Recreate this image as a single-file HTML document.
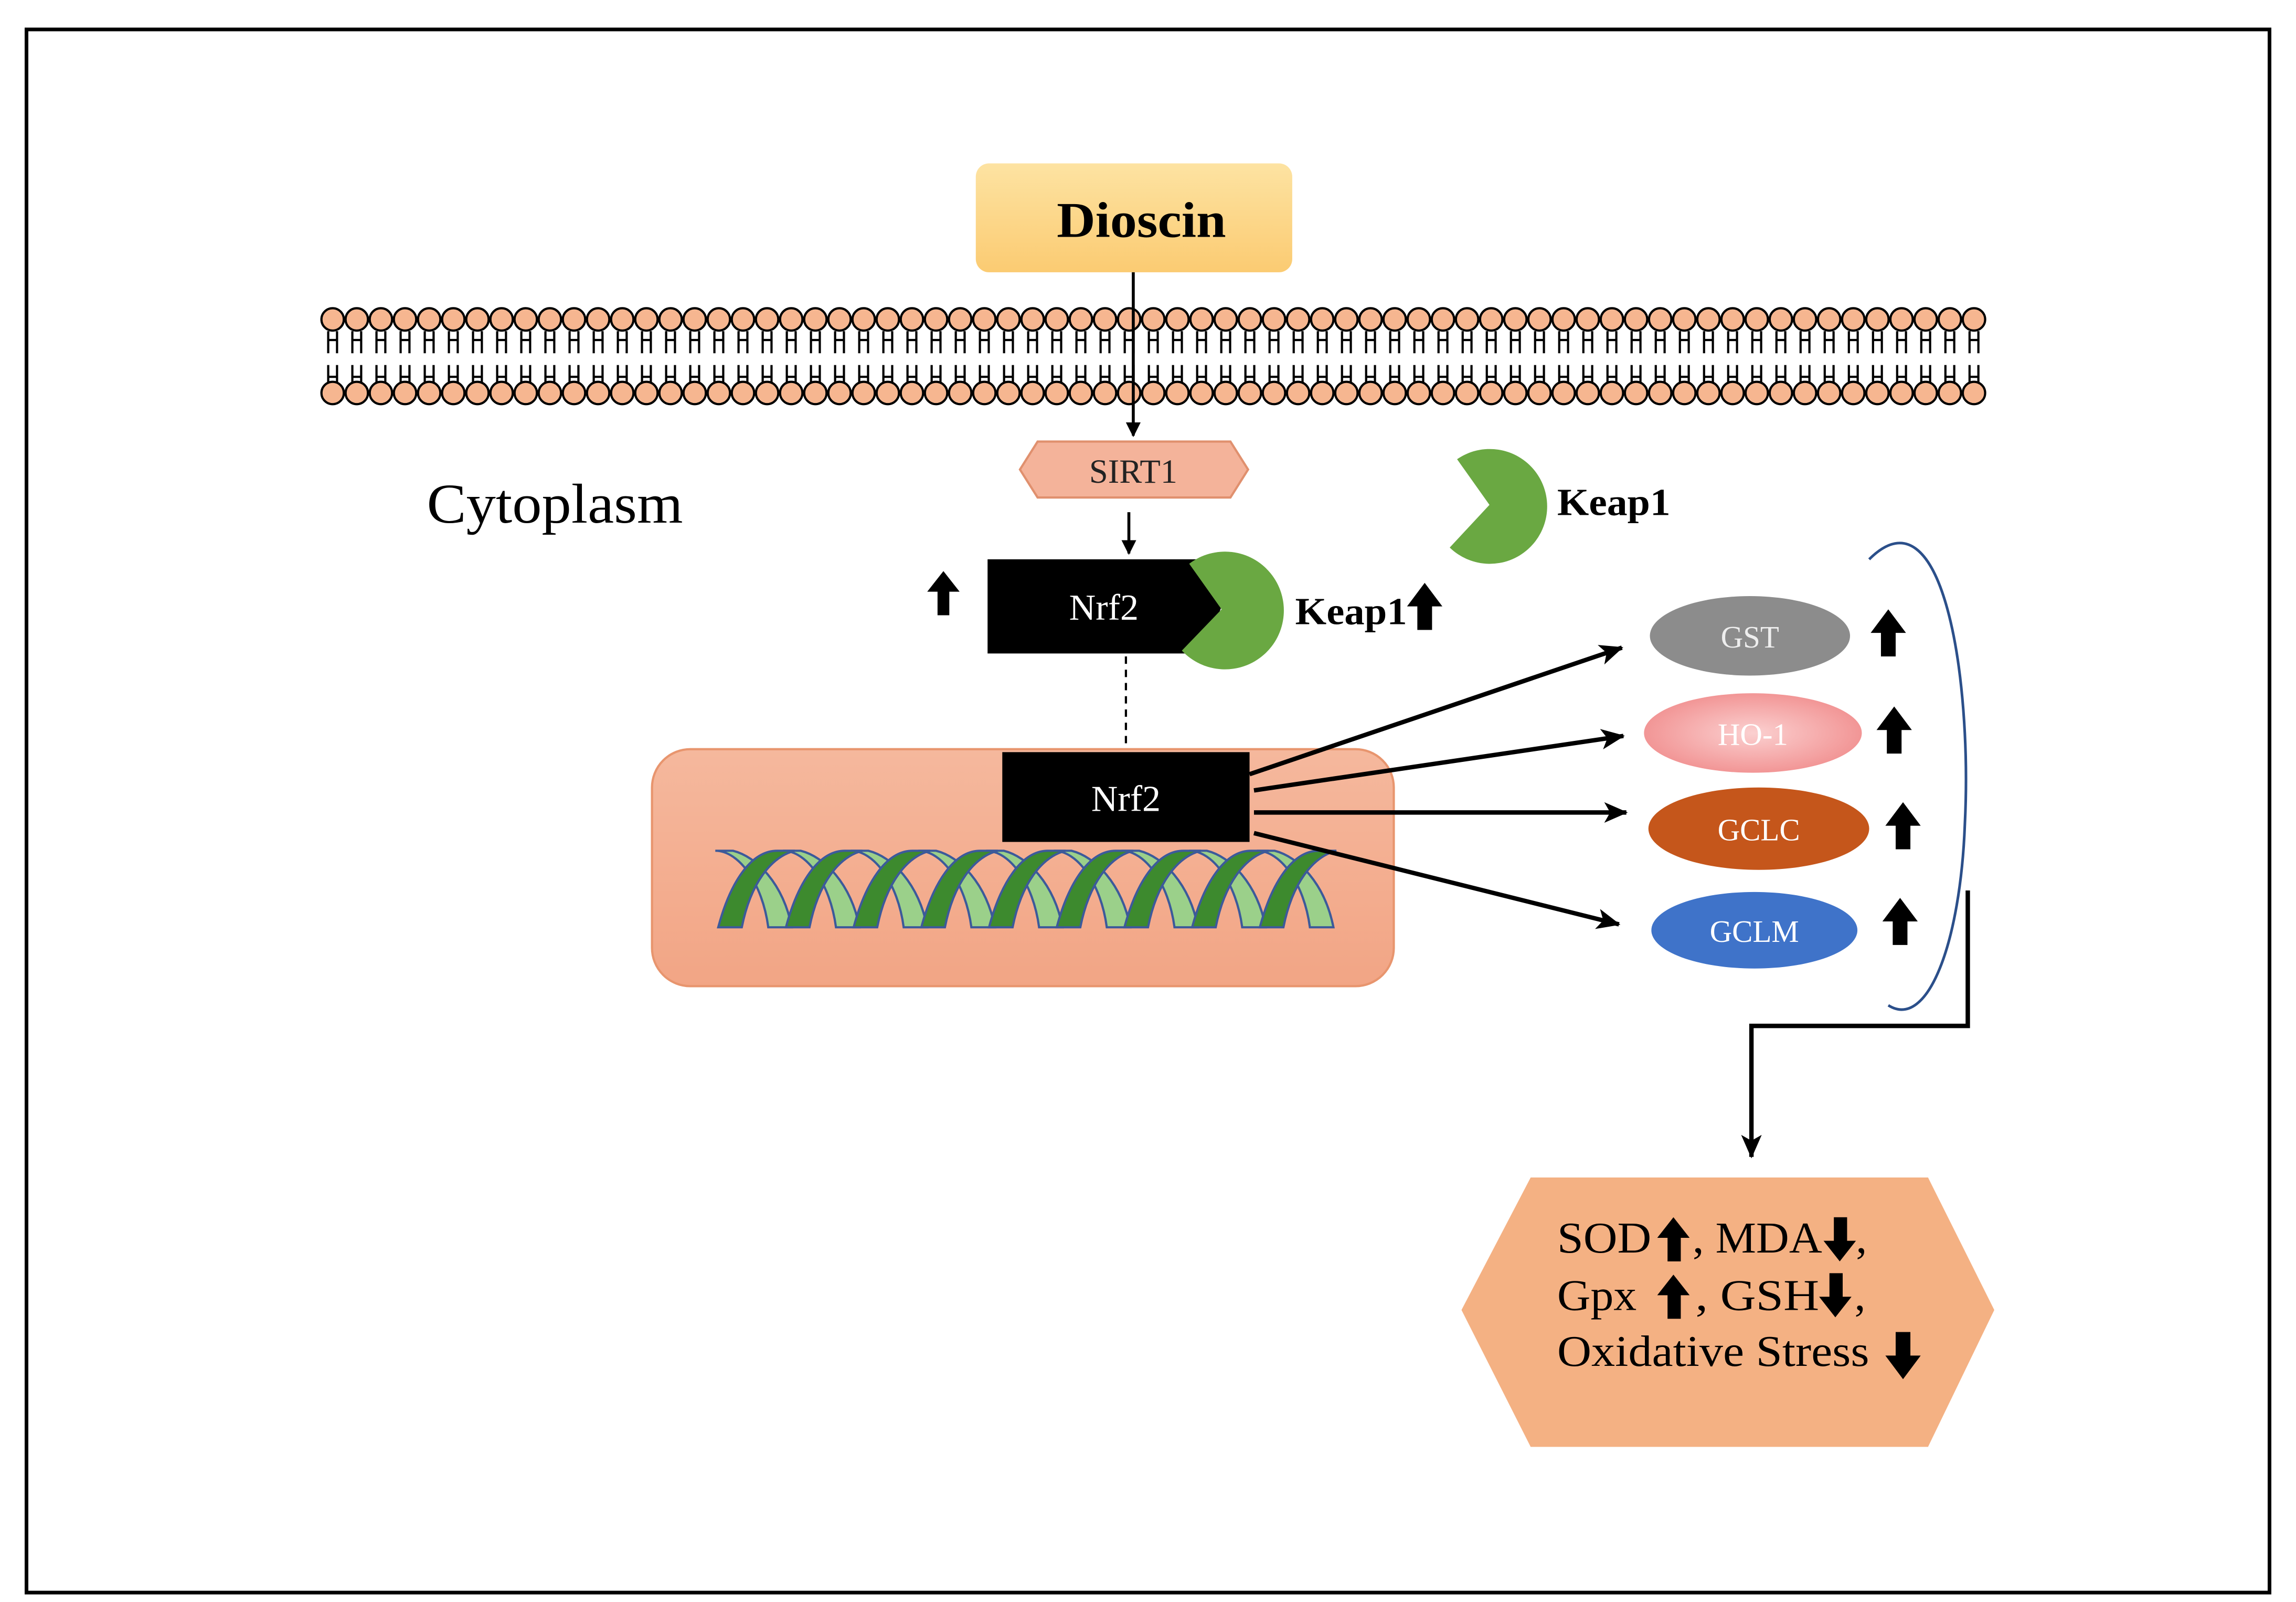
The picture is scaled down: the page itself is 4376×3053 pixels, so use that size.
<!DOCTYPE html>
<html><head><meta charset="utf-8"><style>
html,body{margin:0;padding:0;background:#fff}
svg{display:block}
text{font-family:"Liberation Serif",serif}
</style></head><body>
<svg width="4376" height="3053" viewBox="0 0 1560 1088.4" preserveAspectRatio="none" xmlns="http://www.w3.org/2000/svg">
<defs>
<linearGradient id="dg" x1="0" y1="0" x2="0" y2="1"><stop offset="0" stop-color="#fde3a2"/><stop offset="1" stop-color="#fbcb72"/></linearGradient>
<linearGradient id="ng" x1="0" y1="0" x2="0" y2="1"><stop offset="0" stop-color="#f5b89d"/><stop offset="1" stop-color="#f2a585"/></linearGradient>
<radialGradient id="hg" cx="0.5" cy="0.5" r="0.6"><stop offset="0" stop-color="#fbd0d0"/><stop offset="1" stop-color="#f08a8a"/></radialGradient>
<marker id="ah" markerWidth="10" markerHeight="10" refX="9" refY="5" orient="auto" markerUnits="userSpaceOnUse"><path d="M0,0 L10,5 L0,10 Z" fill="#000"/></marker>
<marker id="ah2" markerWidth="16" markerHeight="14" refX="15" refY="7" orient="auto" markerUnits="userSpaceOnUse"><path d="M0,0 L16,7 L0,14 L4,7 Z" fill="#000"/></marker>
</defs>
<rect x="18" y="20" width="1524" height="1062" fill="#fff" stroke="#000" stroke-width="2.5"/>

<rect x="663" y="111" width="215" height="74" rx="9" fill="url(#dg)"/>
<text x="718" y="161" font-size="34" font-weight="bold" textLength="115" lengthAdjust="spacingAndGlyphs">Dioscin</text>

<g id="mem" stroke="#000" stroke-width="1.5"></g>
<script>
(function(){
var ns="http://www.w3.org/2000/svg",g=document.getElementById("mem");
function ln(a,b,c,d){var l=document.createElementNS(ns,"line");l.setAttribute("x1",a);l.setAttribute("y1",b);l.setAttribute("x2",c);l.setAttribute("y2",d);g.appendChild(l);}
for(var i=0;i<70;i++){var x=226+i*16.4;if(x>1350)break;
 ln(x-3,225,x-3,240);ln(x+3,225,x+3,240);ln(x-3,231,x+3,231);
 ln(x-3,248,x-3,262);ln(x+3,248,x+3,262);ln(x-3,256,x+3,256);
 [217,267].forEach(function(cy){var c=document.createElementNS(ns,"circle");c.setAttribute("cx",x);c.setAttribute("cy",cy);c.setAttribute("r",7.6);c.setAttribute("fill","#f6b690");g.appendChild(c);});
}})();
</script>

<line x1="770" y1="185" x2="770" y2="296" stroke="#000" stroke-width="2" marker-end="url(#ah)"/>

<polygon points="705,300 836,300 848,319 836,338 705,338 693,319" fill="#f4b39a" stroke="#e0906e" stroke-width="1.5"/>
<text x="770" y="328" font-size="23" text-anchor="middle" fill="#222">SIRT1</text>
<line x1="767" y1="348" x2="767" y2="376" stroke="#000" stroke-width="2" marker-end="url(#ah)"/>

<text x="290" y="355" font-size="38" textLength="174" lengthAdjust="spacingAndGlyphs">Cytoplasm</text>

<path d="M671,380 L818,380 L830,412 L818,444 L671,444 Z" fill="#000"/>
<path d="M830,414 L808,383 A40,40 0 1 1 803,442 Z" fill="#6aa842"/>
<text x="750" y="421" font-size="25" fill="#fff" text-anchor="middle">Nrf2</text>
<path d="M641,388 L652,402 L645,402 L645,418 L637,418 L637,402 L630,402 Z" fill="#000"/>
<text x="880" y="424" font-size="26" font-weight="bold" textLength="76" lengthAdjust="spacingAndGlyphs">Keap1</text>
<path d="M968,396 L980,412 L973,412 L973,428 L963,428 L963,412 L956,412 Z" fill="#000"/>

<path d="M1012,343 L990,312 A39,39 0 1 1 985,372 Z" fill="#6aa842"/>
<text x="1058" y="350" font-size="26" font-weight="bold" textLength="77" lengthAdjust="spacingAndGlyphs">Keap1</text>

<line x1="765" y1="446" x2="765" y2="512" stroke="#000" stroke-width="1.5" stroke-dasharray="5,4"/>

<rect x="443" y="509" width="504" height="161" rx="26" fill="url(#ng)" stroke="#e8956e" stroke-width="1.5"/>
<rect x="681" y="511" width="168" height="61" fill="#000"/>
<text x="765" y="551" font-size="25" fill="#fff" text-anchor="middle">Nrf2</text>

<g stroke="#3c5a9a" stroke-width="1.5" id="dna"></g>
<script>
(function(){
var ns="http://www.w3.org/2000/svg",g=document.getElementById("dna");
function p(d,f){var e=document.createElementNS(ns,"path");e.setAttribute("d",d);e.setAttribute("fill",f);g.appendChild(e);}
for(var i=0;i<9;i++){var x=530+i*46;
 p("M"+(x-8)+",630 C"+(x-12)+",600 "+(x-28)+",578 "+(x-44)+",578 L"+(x-32)+",578 C"+(x-16)+",582 "+(x+2)+",600 "+(x+8)+",630 Z","#9bd08a");}
for(var i=0;i<9;i++){var x=488+i*46;
 p("M"+x+",630 C"+(x+8)+",600 "+(x+22)+",578 "+(x+40)+",578 L"+(x+52)+",578 C"+(x+36)+",582 "+(x+22)+",600 "+(x+16)+",630 Z","#3d8a2e");}
})();
</script>

<g stroke="#000" stroke-width="3" fill="none">
<line x1="849" y1="526" x2="1102" y2="440" marker-end="url(#ah2)"/>
<line x1="852" y1="537" x2="1103" y2="500" marker-end="url(#ah2)"/>
<line x1="852" y1="552" x2="1105" y2="552" marker-end="url(#ah2)"/>
<line x1="852" y1="566" x2="1100" y2="628" marker-end="url(#ah2)"/>
</g>

<ellipse cx="1189" cy="432" rx="68" ry="27" fill="#8c8c8c"/>
<text x="1189" y="440" font-size="21" fill="#eee" text-anchor="middle">GST</text>
<ellipse cx="1191" cy="498" rx="74" ry="27" fill="url(#hg)"/>
<text x="1191" y="506" font-size="21" fill="#fff" text-anchor="middle">HO-1</text>
<ellipse cx="1195" cy="563" rx="75" ry="28" fill="#c5561b"/>
<text x="1195" y="571" font-size="21" fill="#fff" text-anchor="middle">GCLC</text>
<ellipse cx="1192" cy="632" rx="70" ry="26" fill="#3f73c9"/>
<text x="1192" y="640" font-size="21" fill="#fff" text-anchor="middle">GCLM</text>

<g fill="#000">
<path d="M1283,414 L1295,430 L1288,430 L1288,446 L1278,446 L1278,430 L1271,430 Z"/>
<path d="M1287,480 L1299,496 L1292,496 L1292,512 L1282,512 L1282,496 L1275,496 Z"/>
<path d="M1293,545 L1305,561 L1298,561 L1298,577 L1288,577 L1288,561 L1281,561 Z"/>
<path d="M1291,610 L1303,626 L1296,626 L1296,642 L1286,642 L1286,626 L1279,626 Z"/>
</g>

<path d="M1270,380 C1320,330 1340,460 1335,560 C1332,640 1310,700 1283,683" fill="none" stroke="#2b4f8a" stroke-width="1.8"/>

<path d="M1337,605 L1337,697 L1190,697 L1190,786" fill="none" stroke="#000" stroke-width="3" marker-end="url(#ah2)"/>

<polygon points="1040,800 1310,800 1355,890 1310,983 1040,983 993,890" fill="#f4b183"/>
<g font-size="30" lengthAdjust="spacingAndGlyphs">
<text x="1058" y="851" textLength="64" lengthAdjust="spacingAndGlyphs">SOD</text>
<text x="1150" y="851" textLength="88" lengthAdjust="spacingAndGlyphs">, MDA</text>
<text x="1261" y="851">,</text>
<text x="1058" y="890" textLength="54" lengthAdjust="spacingAndGlyphs">Gpx</text>
<text x="1152" y="890" textLength="84" lengthAdjust="spacingAndGlyphs">, GSH</text>
<text x="1260" y="890">,</text>
<text x="1058" y="928" textLength="212" lengthAdjust="spacingAndGlyphs">Oxidative Stress</text>
</g>
<g fill="#000">
<path d="M1137,827 L1148,841 L1142,841 L1142,857 L1133,857 L1133,841 L1126,841 Z"/>
<path d="M1250,857 L1261,843 L1255,843 L1255,827 L1246,827 L1246,843 L1239,843 Z"/>
<path d="M1137,866 L1148,880 L1142,880 L1142,896 L1133,896 L1133,880 L1126,880 Z"/>
<path d="M1247,895 L1258,881 L1252,881 L1252,865 L1243,865 L1243,881 L1236,881 Z"/>
<path d="M1293,937 L1305,921 L1298,921 L1298,905 L1288,905 L1288,921 L1281,921 Z"/>
</g>
</svg>
</body></html>
